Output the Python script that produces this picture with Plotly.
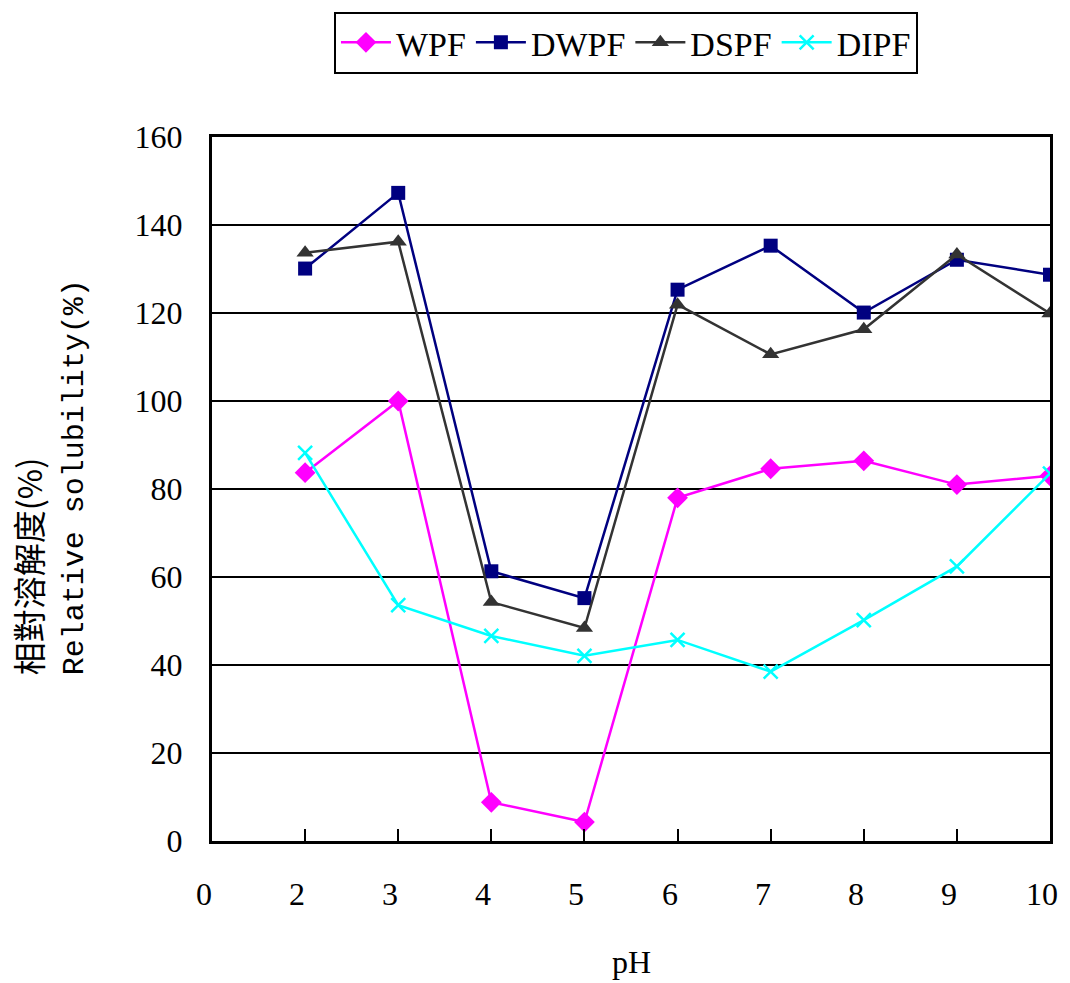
import plotly.graph_objects as go

ph = [2, 3, 4, 5, 6, 7, 8, 9, 10]
wpf = [83.7, 100.0, 8.8, 4.3, 78.0, 84.6, 86.4, 81.0, 83.0]
dwpf = [130.1, 147.3, 61.3, 55.2, 125.3, 135.3, 120.1, 132.1, 128.7]
dspf = [133.7, 136.2, 54.3, 48.4, 121.9, 110.6, 116.3, 133.3, 119.9]
dipf = [88.2, 53.6, 46.6, 42.1, 45.7, 38.5, 50.2, 62.4, 83.5]

x_tick_pos = [1, 2, 3, 4, 5, 6, 7, 8, 9, 10]
x_tick_text = ["0", "2", "3", "4", "5", "6", "7", "8", "9", "10"]

FONT = "Liberation Serif"
FS = 32

fig = go.Figure()
series = [
    ("WPF", wpf, "#FF00FF", "diamond", 16),
    ("DWPF", dwpf, "#000080", "square", 14),
    ("DSPF", dspf, "#333333", "triangle-up", 15),
    ("DIPF", dipf, "#00FFFF", "x-thin", 14),
]
for name, vals, color, sym, size in series:
    marker = dict(symbol=sym, size=size, color=color)
    if sym == "x-thin":
        marker["line"] = dict(color=color, width=2.5)
    fig.add_trace(go.Scatter(
        x=ph, y=vals, name=name, mode="lines+markers",
        line=dict(color=color, width=2.5), marker=marker,
    ))

fig.update_layout(
    width=1070, height=983,
    margin=dict(l=212, r=20, t=133, b=142),
    paper_bgcolor="white", plot_bgcolor="white",
    font=dict(family=FONT, size=FS, color="black"),
    showlegend=True,
    legend=dict(
        orientation="h", x=0.494, xanchor="center", y=1.178, yanchor="top",
        bordercolor="black", borderwidth=2, font=dict(family=FONT, size=34),
        itemwidth=50, tracegroupgap=0,
    ),
    xaxis=dict(
        range=[1, 10], tickvals=ph[:-1], ticks="inside", ticklen=12, tickwidth=2,
        tickcolor="black", showticklabels=False, showgrid=False, zeroline=False,
        showline=True, linecolor="black", linewidth=3, mirror=True,
    ),
    yaxis=dict(
        range=[0, 160], dtick=20, tick0=0, showgrid=True, gridcolor="black",
        gridwidth=2, zeroline=False, showline=True, linecolor="black",
        linewidth=3, mirror=True, ticks="", ticklabelstandoff=20,
        tickfont=dict(family=FONT, size=FS),
    ),
)

# x tick labels (offset slightly left of the tick positions, as in the original)
for pos, txt in zip(x_tick_pos, x_tick_text):
    fig.add_annotation(text=txt, x=pos, xref="x", y=0, yref="paper",
                       xanchor="center", yanchor="middle", xshift=-8, yshift=-53,
                       showarrow=False, font=dict(family=FONT, size=FS))

fig.add_annotation(text="pH", x=0.5, xref="paper", y=0, yref="paper",
                   xanchor="center", yanchor="middle", yshift=-121,
                   showarrow=False, font=dict(family=FONT, size=FS))

fig.add_annotation(text="相對溶解度(%)", xref="paper", yref="paper",
                   x=-0.22, y=(841 - 677) / 707, xanchor="center",
                   yanchor="bottom", textangle=-90, showarrow=False,
                   font=dict(family="Noto Sans CJK TC", size=33))
fig.add_annotation(text="Relative solubility(%)", xref="paper", yref="paper",
                   x=-0.164, y=(841 - 677) / 707, xanchor="center", yanchor="bottom",
                   textangle=-90, showarrow=False,
                   font=dict(family="Liberation Mono", size=30))

fig.write_html("out.html")
